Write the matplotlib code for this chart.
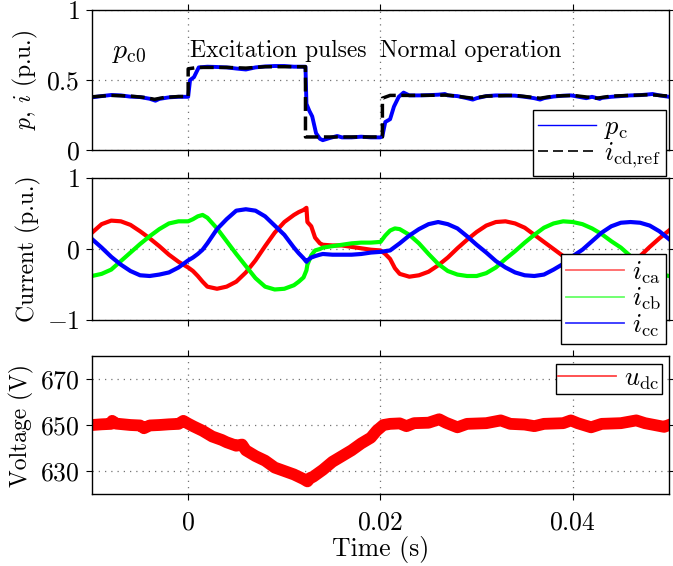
import numpy as np
import matplotlib
matplotlib.use('Agg')
import matplotlib.pyplot as plt
from matplotlib.lines import Line2D

plt.rcParams['font.family'] = 'cmr10'
plt.rcParams['mathtext.fontset'] = 'cm'
plt.rcParams['axes.unicode_minus'] = False
plt.rcParams['font.size'] = 17

# --- power / reference current (times in ms) ---
t_pc = [-10, -9, -8, -7, -6, -5, -4, -3.4, -3, -2, -1, 0, 0.2, 0.6, 1.1, 2, 3, 4, 5, 6,
        7, 8, 9, 10, 11, 12, 12.2, 12.3, 12.6, 12.9, 13.3, 13.7, 14, 14.7, 15.5, 16, 17, 18, 19, 20,
        20.2, 20.5, 21, 21.4, 21.9, 22.4, 23, 24, 25, 26, 26.7, 27, 28, 29, 29.6, 30,
        31, 32, 33, 34, 35, 36, 36.6, 37, 38, 39, 39.8, 40, 41, 41.4, 42, 42.8, 43,
        44, 45, 46, 47, 48, 48.3, 49, 50]
p_c = [0.376, 0.385, 0.393, 0.390, 0.381, 0.378, 0.366, 0.352, 0.365, 0.376, 0.380, 0.380,
       0.50, 0.52, 0.59, 0.595, 0.593, 0.590, 0.582, 0.575, 0.590, 0.597, 0.600, 0.600, 0.595,
       0.595, 0.595, 0.33, 0.28, 0.24, 0.12, 0.08, 0.07, 0.085, 0.10, 0.09, 0.09, 0.095, 0.09, 0.09,
       0.10, 0.20, 0.22, 0.31, 0.38, 0.41, 0.39, 0.39, 0.392, 0.395, 0.40, 0.39, 0.385, 0.37,
       0.36, 0.37, 0.385, 0.39, 0.39, 0.388, 0.38, 0.37, 0.36, 0.37, 0.382, 0.388, 0.39, 0.388,
       0.375, 0.37, 0.38, 0.365, 0.372, 0.38, 0.385, 0.39, 0.392, 0.398, 0.40, 0.39, 0.38]

t_ref = [-10, -8, -6, -4.5, -3.5, -2.5, -1, 0, 0, 1, 4, 6, 8, 10, 12.2, 12.2, 16, 20.2, 20.2,
         21, 24, 27, 29.6, 31, 34, 36.6, 38, 40, 42.5, 44, 48, 50]
i_ref = [0.38, 0.39, 0.385, 0.375, 0.362, 0.375, 0.382, 0.382, 0.58, 0.59, 0.59, 0.585, 0.595,
         0.595, 0.595, 0.093, 0.093, 0.093, 0.37, 0.39, 0.39, 0.392, 0.37, 0.385, 0.39, 0.37,
         0.385, 0.39, 0.37, 0.385, 0.395, 0.385]

# --- converter phase currents ---
t_cur = [-10, -9, -8, -7, -6, -5, -4, -3, -2, -1, 0, 0.5, 1, 1.5, 2, 3, 4, 5, 6, 7, 8, 9, 10,
         11, 11.5, 12, 12.3, 12.4, 12.8, 13.2, 13.7, 14, 15, 16, 17, 18, 19, 20, 20.5, 21, 21.5,
         22, 23, 24, 25, 26, 27, 28, 29, 30, 31, 32, 33, 34, 35, 36, 37, 38, 39, 40, 41, 42,
         43, 44, 45, 46, 47, 48, 49, 50]
i_ca = [0.23, 0.35, 0.40, 0.39, 0.34, 0.25, 0.15, 0.04, -0.08, -0.18, -0.26, -0.31, -0.38,
        -0.46, -0.53, -0.56, -0.53, -0.46, -0.33, -0.16, 0.04, 0.23, 0.38, 0.48, 0.52, 0.55,
        0.58, 0.38, 0.32, 0.16, 0.08, 0.06, 0.05, 0.05, 0.03, 0.01, -0.01, -0.02, -0.07, -0.14,
        -0.27, -0.35, -0.39, -0.37, -0.32, -0.23, -0.12, 0.01, 0.13, 0.24, 0.33, 0.38, 0.39,
        0.36, 0.30, 0.20, 0.10, 0.00, -0.10, -0.21, -0.30, -0.36, -0.39, -0.37, -0.31, -0.22,
        -0.10, 0.03, 0.15, 0.26]
i_cb = [-0.38, -0.35, -0.29, -0.17, -0.05, 0.07, 0.18, 0.28, 0.36, 0.39, 0.39, 0.42, 0.46,
        0.48, 0.44, 0.29, 0.11, -0.07, -0.24, -0.41, -0.53, -0.57, -0.56, -0.51, -0.46, -0.40,
        -0.30, -0.22, -0.09, -0.02, 0.00, 0.02, 0.04, 0.06, 0.08, 0.09, 0.09, 0.10, 0.19, 0.26,
        0.29, 0.28, 0.20, 0.08, -0.07, -0.21, -0.31, -0.36, -0.38, -0.38, -0.34, -0.26, -0.14,
        -0.03, 0.09, 0.20, 0.30, 0.36, 0.39, 0.38, 0.35, 0.29, 0.21, 0.11, 0.02, -0.10, -0.21,
        -0.30, -0.35, -0.38]
i_cc = [0.14, 0.02, -0.11, -0.22, -0.31, -0.37, -0.38, -0.36, -0.33, -0.26, -0.16, -0.12,
        -0.07, -0.01, 0.08, 0.28, 0.42, 0.54, 0.56, 0.54, 0.46, 0.33, 0.20, 0.02, -0.06, -0.13,
        -0.18, -0.16, -0.12, -0.10, -0.08, -0.07, -0.08, -0.08, -0.08, -0.07, -0.05, -0.04,
        -0.03, -0.02, 0.03, 0.08, 0.19, 0.28, 0.35, 0.38, 0.35, 0.29, 0.18, 0.06, -0.05, -0.17,
        -0.26, -0.33, -0.37, -0.38, -0.36, -0.29, -0.21, -0.10, -0.01, 0.11, 0.23, 0.32, 0.37,
        0.38, 0.37, 0.33, 0.25, 0.14]

# --- dc-link voltage ---
t_udc = [-10, -9, -8, -7.9, -7.5, -6, -5, -4.6, -4, -3, -2, -1, -0.5, 0, 0.6, 1.5, 2.5, 3.5,
         4, 5, 5.6, 6, 7, 8, 9, 10, 11, 12, 12.4, 12.7, 13, 14, 15, 16, 17, 18, 19, 19.6, 20.3,
         21, 22, 22.7, 23.5, 25, 26.1, 26.8, 28, 29, 31, 32.5, 33.5, 35, 36, 37, 39, 39.8, 40.5,
         41.9, 43, 45, 46.6, 47.5, 49.5, 50]
u_dc = [650.0, 650.3, 650.5, 651.8, 650.6, 650.0, 649.8, 648.6, 649.8, 650.0, 650.3, 650.5,
        651.8, 650.6, 649.3, 647.5, 645.0, 643.5, 642.5, 641.0, 641.5, 639.0, 636.5, 634.5,
        631.5, 630.0, 628.5, 626.5, 625.5, 627.0, 627.5, 630.5, 634.0, 636.5, 639.0, 642.0,
        644.5, 647.5, 650.0, 650.5, 650.7, 649.5, 650.8, 651.0, 652.5, 651.0, 649.0, 650.5,
        650.8, 652.0, 650.5, 650.2, 649.5, 650.5, 650.8, 652.0, 650.8, 649.0, 650.5, 650.8,
        652.0, 650.8, 649.2, 650.0]

x_ticks = [0, 0.02, 0.04]
x_tick_labels = ['$0$', '$0.02$', '$0.04$']

LEG = dict(loc='upper right', fancybox=False, framealpha=1, edgecolor='k', fontsize=19,
           handlelength=2.2, handletextpad=0.3, borderaxespad=0)


def ms(t):
    return np.array(t) * 1e-3


def style_axes(ax, yticks, ylabels, ylim):
    ax.set_xlim(-0.01, 0.05)
    ax.set_ylim(*ylim)
    ax.set_xticks(x_ticks)
    ax.set_yticks(yticks)
    ax.set_yticklabels(ylabels)
    ax.tick_params(direction='out', length=4, width=0.8, top=True, right=True,
                   pad=5, labelsize=18.5)
    ax.grid(True, color='0.45', linestyle=(0, (1, 4)), linewidth=0.9)
    for s in ax.spines.values():
        s.set_linewidth(1.0)
        s.set_color('k')


fig = plt.figure(figsize=(6.73, 5.66), dpi=100)
ax1 = fig.add_axes([0.1367, 0.7350, 0.8573, 0.2473])
ax2 = fig.add_axes([0.1367, 0.4346, 0.8573, 0.2509])
ax3 = fig.add_axes([0.1367, 0.1272, 0.8573, 0.2438])

# top: active power and d-axis current reference
ax1.plot(ms(t_pc), p_c, color='b', lw=2.8)
ax1.plot(ms(t_ref), i_ref, color='k', lw=2.5, dashes=(4, 1.6))
style_axes(ax1, [0, 0.5, 1], ['$0$', '$0.5$', '$1$'], (0, 1))
ax1.set_xticklabels([])
ax1.set_ylabel('$p$, $i$ (p.u.)')
ax1.text(-0.0079, 0.70, r'$p_{\mathrm{c0}}$', ha='left', va='center', fontsize=20)
ax1.text(0.0002, 0.71, 'Excitation pulses', ha='left', va='center', fontsize=17)
ax1.text(0.0200, 0.71, 'Normal operation', ha='left', va='center', fontsize=17)
h1 = [Line2D([], [], color='b', lw=1.0),
      Line2D([], [], color='k', lw=1.2, dashes=(6, 3))]
ax1.legend(h1, [r'$p_{\mathrm{c}}$', r'$i_{\mathrm{cd{,}ref}}$'],
           bbox_to_anchor=(0.9896, 0.8057), bbox_transform=fig.transFigure,
           borderpad=0.2, labelspacing=0.0, **LEG).get_frame().set_linewidth(1.0)

# middle: converter currents
ax2.plot(ms(t_cur), i_ca, color='r', lw=3)
ax2.plot(ms(t_cur), i_cb, color='#00ff00', lw=3)
ax2.plot(ms(t_cur), i_cc, color='b', lw=3)
style_axes(ax2, [-1, 0, 1], ['$-1$', '$0$', '$1$'], (-1, 1))
ax2.set_xticklabels([])
ax2.set_ylabel('Current (p.u.)')
h2 = [Line2D([], [], color='#ff6666', lw=1.3),
      Line2D([], [], color='#66ff66', lw=1.3),
      Line2D([], [], color='#3333ff', lw=1.3)]
ax2.legend(h2, [r'$i_{\mathrm{ca}}$', r'$i_{\mathrm{cb}}$', r'$i_{\mathrm{cc}}$'],
           bbox_to_anchor=(0.9896, 0.5512), bbox_transform=fig.transFigure,
           borderpad=0.2, labelspacing=0.0, **LEG).get_frame().set_linewidth(1.0)

# bottom: dc-link voltage
ax3.plot(ms(t_udc), u_dc, color='r', lw=8.5, solid_joinstyle='round')
style_axes(ax3, [630, 650, 670], ['$630$', '$650$', '$670$'], (620, 680))
ax3.set_xticklabels(x_tick_labels)
ax3.tick_params(axis='x', pad=8)
ax3.set_xlabel('Time (s)', labelpad=1, fontsize=18.5)
ax3.set_ylabel('Voltage (V)')
h3 = [Line2D([], [], color='#ff4444', lw=1.3)]
ax3.legend(h3, [r'$u_{\mathrm{dc}}$'], bbox_to_anchor=(0.9837, 0.3569),
           bbox_transform=fig.transFigure, borderpad=0.1,
           **LEG).get_frame().set_linewidth(1.0)

fig.savefig('out.png', dpi=100)
